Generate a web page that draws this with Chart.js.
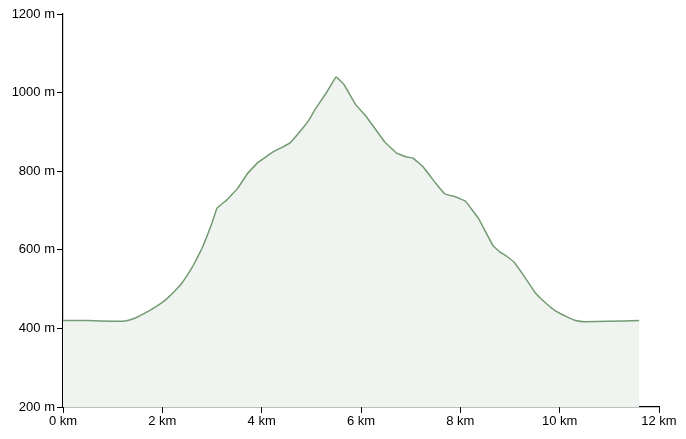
<!DOCTYPE html>
<html>
<head>
<meta charset="utf-8">
<script src="https://cdn.jsdelivr.net/npm/chart.js@4"></script>
<style>
html,body{margin:0;padding:0;background:#fff;}
#wrap{width:686px;height:439px;position:relative;}
</style>
</head>
<body>
<div id="wrap"><canvas id="c" width="686" height="439"></canvas></div>
<script>
const distancesKm = [0, 0.5, 1.0, 1.2, 1.3, 1.4, 1.5, 1.62, 1.75, 1.88, 2.0, 2.12, 2.25, 2.38, 2.5, 2.6, 2.7, 2.8, 2.9, 3.0, 3.1, 3.3, 3.52, 3.72, 3.93, 4.23, 4.43, 4.57, 4.83, 4.95, 5.07, 5.3, 5.5, 5.65, 5.9, 6.1, 6.48, 6.72, 6.9, 7.05, 7.25, 7.5, 7.69, 7.9, 8.1, 8.36, 8.66, 8.8, 8.94, 9.1, 9.3, 9.5, 9.62, 9.74, 9.9, 10.07, 10.2, 10.3, 10.5, 11.0, 11.6];
const elevationsM = [420, 420, 418, 418, 420, 424, 429, 437, 446, 456, 466, 479, 495, 513, 535, 555, 579, 604, 635, 668, 706, 727, 757, 795, 823, 849, 862, 872, 910, 930, 956, 999, 1040, 1022, 968, 940, 874, 846, 837, 833, 811, 770, 742, 735, 724, 681, 610, 594, 583, 566, 530, 492, 476, 462, 446, 434, 426, 421, 417, 418, 420];
const xTicks = [0, 2, 4, 6, 8, 10, 12];
const yTicks = [200, 400, 600, 800, 1000, 1200];

const points = distancesKm.map((d, i) => ({x: d, y: elevationsM[i]}));

new Chart(document.getElementById('c'), {
  type: 'line',
  data: {
    datasets: [{
      data: points,
      borderColor: 'rgb(116,154,116)',
      backgroundColor: 'rgba(240,244,240,1)',
      borderWidth: 1.5,
      fill: 'start',
      pointRadius: 0,
      tension: 0.05
    }]
  },
  options: {
    responsive: false,
    animation: false,
    plugins: { legend: { display: false }, tooltip: { enabled: false } },
    layout: { padding: { top: 14, right: 27, left: 0, bottom: 0 } },
    scales: {
      x: {
        type: 'linear',
        min: xTicks[0], max: xTicks[xTicks.length - 1],
        afterBuildTicks: s => { s.ticks = xTicks.map(v => ({value: v})); },
        afterFit: s => { s.height = 32; },
        grid: { drawOnChartArea: false, drawTicks: true, tickLength: 6, color: '#000', lineWidth: 1 },
        border: { display: true, color: '#000', width: 1.2 },
        ticks: { color: '#000', padding: 1, maxRotation: 0, font: { family: 'Liberation Sans', size: 13 },
                 callback: v => v + ' km' }
      },
      y: {
        type: 'linear',
        min: yTicks[0], max: yTicks[yTicks.length - 1],
        afterBuildTicks: s => { s.ticks = yTicks.map(v => ({value: v})); },
        afterFit: s => { s.width = 63; },
        grid: { drawOnChartArea: false, drawTicks: true, tickLength: 6, color: '#000', lineWidth: 1 },
        border: { display: true, color: '#000', width: 1.2 },
        ticks: { color: '#000', padding: 2, font: { family: 'Liberation Sans', size: 13 },
                 callback: v => v + ' m' }
      }
    }
  }
});
</script>
</body>
</html>
